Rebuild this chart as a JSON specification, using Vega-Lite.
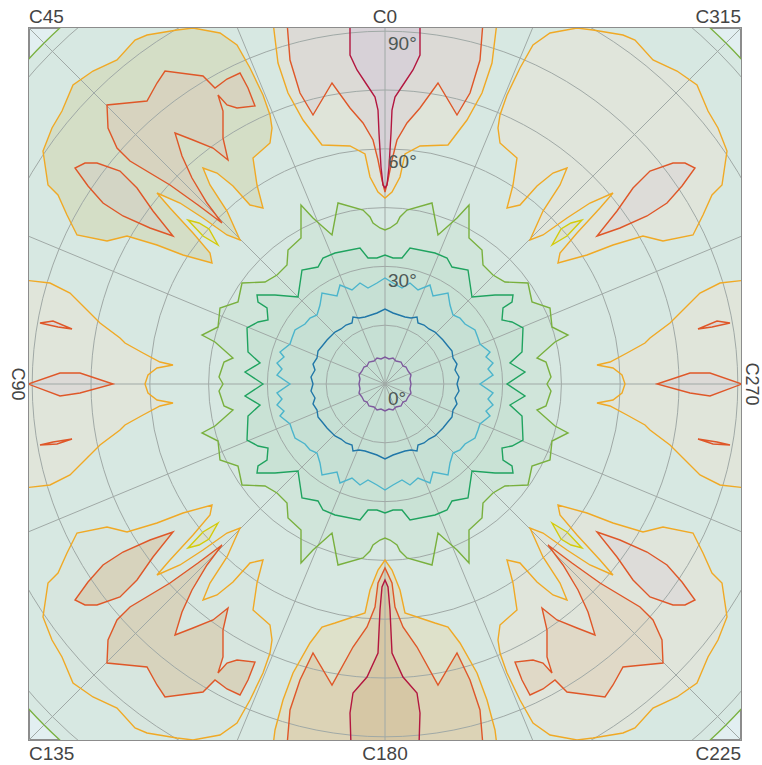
{
"$schema":"https://vega.github.io/schema/vega-lite/v6.json",
"width":712,"height":712,
"autosize":{"type":"none"},
"padding":{"left":29,"top":28,"right":21,"bottom":25},
"background":"white",
"config":{"view":{"stroke":"#8c8c8c","strokeWidth":2,"fill":"#e2eff1"}},
"datasets":{
"contours":[
{"poly":"p","lev":"p","x":-26,"y":0},{"poly":"p","lev":"p","x":-25,"y":5},{"poly":"p","lev":"p","x":-26,"y":9},{"poly":"p","lev":"p","x":-23,"y":13},{"poly":"p","lev":"p","x":-21,"y":17},{"poly":"p","lev":"p","x":-18,"y":18},{"poly":"p","lev":"p","x":-16,"y":22},{"poly":"p","lev":"p","x":-11,"y":23},{"poly":"p","lev":"p","x":-8,"y":26},{"poly":"p","lev":"p","x":-4,"y":25},{"poly":"p","lev":"p","x":0,"y":27},{"poly":"p","lev":"p","x":4,"y":25},{"poly":"p","lev":"p","x":8,"y":26},{"poly":"p","lev":"p","x":11,"y":23},{"poly":"p","lev":"p","x":16,"y":22},{"poly":"p","lev":"p","x":18,"y":18},{"poly":"p","lev":"p","x":21,"y":17},{"poly":"p","lev":"p","x":23,"y":13},{"poly":"p","lev":"p","x":26,"y":9},{"poly":"p","lev":"p","x":25,"y":5},{"poly":"p","lev":"p","x":26,"y":0},{"poly":"p","lev":"p","x":25,"y":-5},{"poly":"p","lev":"p","x":26,"y":-9},{"poly":"p","lev":"p","x":23,"y":-13},{"poly":"p","lev":"p","x":21,"y":-17},{"poly":"p","lev":"p","x":18,"y":-18},{"poly":"p","lev":"p","x":16,"y":-22},{"poly":"p","lev":"p","x":11,"y":-23},{"poly":"p","lev":"p","x":8,"y":-26},{"poly":"p","lev":"p","x":4,"y":-25},{"poly":"p","lev":"p","x":0,"y":-27},{"poly":"p","lev":"p","x":-4,"y":-25},{"poly":"p","lev":"p","x":-8,"y":-26},{"poly":"p","lev":"p","x":-11,"y":-23},{"poly":"p","lev":"p","x":-16,"y":-22},{"poly":"p","lev":"p","x":-18,"y":-18},{"poly":"p","lev":"p","x":-21,"y":-17},{"poly":"p","lev":"p","x":-23,"y":-13},{"poly":"p","lev":"p","x":-26,"y":-9},{"poly":"p","lev":"p","x":-25,"y":-5},

{"poly":"b","lev":"b","x":-72,"y":0},{"poly":"b","lev":"b","x":-74,"y":7},{"poly":"b","lev":"b","x":-70,"y":14},{"poly":"b","lev":"b","x":-72,"y":20},{"poly":"b","lev":"b","x":-68,"y":26},{"poly":"b","lev":"b","x":-67,"y":33},{"poly":"b","lev":"b","x":-62,"y":39},{"poly":"b","lev":"b","x":-58,"y":44},{"poly":"b","lev":"b","x":-54,"y":48},{"poly":"b","lev":"b","x":-50,"y":52},{"poly":"b","lev":"b","x":-44,"y":55},{"poly":"b","lev":"b","x":-39,"y":59},{"poly":"b","lev":"b","x":-33,"y":61},{"poly":"b","lev":"b","x":-32,"y":67},{"poly":"b","lev":"b","x":-26,"y":66},{"poly":"b","lev":"b","x":-20,"y":67},{"poly":"b","lev":"b","x":-14,"y":69},{"poly":"b","lev":"b","x":-8,"y":71},{"poly":"b","lev":"b","x":0,"y":75},
{"poly":"b","lev":"b","x":8,"y":71},{"poly":"b","lev":"b","x":14,"y":69},{"poly":"b","lev":"b","x":20,"y":67},{"poly":"b","lev":"b","x":26,"y":66},{"poly":"b","lev":"b","x":32,"y":67},{"poly":"b","lev":"b","x":33,"y":61},{"poly":"b","lev":"b","x":39,"y":59},{"poly":"b","lev":"b","x":44,"y":55},{"poly":"b","lev":"b","x":50,"y":52},{"poly":"b","lev":"b","x":54,"y":48},{"poly":"b","lev":"b","x":58,"y":44},{"poly":"b","lev":"b","x":62,"y":39},{"poly":"b","lev":"b","x":67,"y":33},{"poly":"b","lev":"b","x":68,"y":26},{"poly":"b","lev":"b","x":72,"y":20},{"poly":"b","lev":"b","x":70,"y":14},{"poly":"b","lev":"b","x":74,"y":7},{"poly":"b","lev":"b","x":72,"y":0},
{"poly":"b","lev":"b","x":74,"y":-7},{"poly":"b","lev":"b","x":70,"y":-14},{"poly":"b","lev":"b","x":72,"y":-20},{"poly":"b","lev":"b","x":68,"y":-26},{"poly":"b","lev":"b","x":67,"y":-33},{"poly":"b","lev":"b","x":62,"y":-39},{"poly":"b","lev":"b","x":58,"y":-44},{"poly":"b","lev":"b","x":54,"y":-48},{"poly":"b","lev":"b","x":50,"y":-52},{"poly":"b","lev":"b","x":44,"y":-55},{"poly":"b","lev":"b","x":39,"y":-59},{"poly":"b","lev":"b","x":33,"y":-61},{"poly":"b","lev":"b","x":32,"y":-67},{"poly":"b","lev":"b","x":26,"y":-66},{"poly":"b","lev":"b","x":20,"y":-67},{"poly":"b","lev":"b","x":14,"y":-69},{"poly":"b","lev":"b","x":8,"y":-71},{"poly":"b","lev":"b","x":0,"y":-75},
{"poly":"b","lev":"b","x":-8,"y":-71},{"poly":"b","lev":"b","x":-14,"y":-69},{"poly":"b","lev":"b","x":-20,"y":-67},{"poly":"b","lev":"b","x":-26,"y":-66},{"poly":"b","lev":"b","x":-32,"y":-67},{"poly":"b","lev":"b","x":-33,"y":-61},{"poly":"b","lev":"b","x":-39,"y":-59},{"poly":"b","lev":"b","x":-44,"y":-55},{"poly":"b","lev":"b","x":-50,"y":-52},{"poly":"b","lev":"b","x":-54,"y":-48},{"poly":"b","lev":"b","x":-58,"y":-44},{"poly":"b","lev":"b","x":-62,"y":-39},{"poly":"b","lev":"b","x":-67,"y":-33},{"poly":"b","lev":"b","x":-68,"y":-26},{"poly":"b","lev":"b","x":-72,"y":-20},{"poly":"b","lev":"b","x":-70,"y":-14},{"poly":"b","lev":"b","x":-74,"y":-7},

{"poly":"c","lev":"c","x":-95,"y":0},{"poly":"c","lev":"c","x":-108,"y":9},{"poly":"c","lev":"c","x":-103,"y":15},{"poly":"c","lev":"c","x":-108,"y":21},{"poly":"c","lev":"c","x":-101,"y":27},{"poly":"c","lev":"c","x":-105,"y":32},{"poly":"c","lev":"c","x":-95,"y":40},{"poly":"c","lev":"c","x":-93,"y":46},{"poly":"c","lev":"c","x":-90,"y":54},{"poly":"c","lev":"c","x":-80,"y":60},{"poly":"c","lev":"c","x":-75,"y":66},{"poly":"c","lev":"c","x":-68,"y":69},{"poly":"c","lev":"c","x":-65,"y":79},{"poly":"c","lev":"c","x":-63,"y":91},{"poly":"c","lev":"c","x":-48,"y":88},{"poly":"c","lev":"c","x":-45,"y":99},{"poly":"c","lev":"c","x":-33,"y":94},{"poly":"c","lev":"c","x":-25,"y":101},{"poly":"c","lev":"c","x":-17,"y":96},{"poly":"c","lev":"c","x":-8,"y":101},{"poly":"c","lev":"c","x":0,"y":106},
{"poly":"c","lev":"c","x":8,"y":101},{"poly":"c","lev":"c","x":17,"y":96},{"poly":"c","lev":"c","x":25,"y":101},{"poly":"c","lev":"c","x":33,"y":94},{"poly":"c","lev":"c","x":45,"y":99},{"poly":"c","lev":"c","x":48,"y":88},{"poly":"c","lev":"c","x":63,"y":91},{"poly":"c","lev":"c","x":65,"y":79},{"poly":"c","lev":"c","x":68,"y":69},{"poly":"c","lev":"c","x":75,"y":66},{"poly":"c","lev":"c","x":80,"y":60},{"poly":"c","lev":"c","x":90,"y":54},{"poly":"c","lev":"c","x":93,"y":46},{"poly":"c","lev":"c","x":95,"y":40},{"poly":"c","lev":"c","x":105,"y":32},{"poly":"c","lev":"c","x":101,"y":27},{"poly":"c","lev":"c","x":108,"y":21},{"poly":"c","lev":"c","x":103,"y":15},{"poly":"c","lev":"c","x":108,"y":9},{"poly":"c","lev":"c","x":95,"y":0},
{"poly":"c","lev":"c","x":108,"y":-9},{"poly":"c","lev":"c","x":103,"y":-15},{"poly":"c","lev":"c","x":108,"y":-21},{"poly":"c","lev":"c","x":101,"y":-27},{"poly":"c","lev":"c","x":105,"y":-32},{"poly":"c","lev":"c","x":95,"y":-40},{"poly":"c","lev":"c","x":93,"y":-46},{"poly":"c","lev":"c","x":90,"y":-54},{"poly":"c","lev":"c","x":80,"y":-60},{"poly":"c","lev":"c","x":75,"y":-66},{"poly":"c","lev":"c","x":68,"y":-69},{"poly":"c","lev":"c","x":65,"y":-79},{"poly":"c","lev":"c","x":63,"y":-91},{"poly":"c","lev":"c","x":48,"y":-88},{"poly":"c","lev":"c","x":45,"y":-99},{"poly":"c","lev":"c","x":33,"y":-94},{"poly":"c","lev":"c","x":25,"y":-101},{"poly":"c","lev":"c","x":17,"y":-96},{"poly":"c","lev":"c","x":8,"y":-101},{"poly":"c","lev":"c","x":0,"y":-106},
{"poly":"c","lev":"c","x":-8,"y":-101},{"poly":"c","lev":"c","x":-17,"y":-96},{"poly":"c","lev":"c","x":-25,"y":-101},{"poly":"c","lev":"c","x":-33,"y":-94},{"poly":"c","lev":"c","x":-45,"y":-99},{"poly":"c","lev":"c","x":-48,"y":-88},{"poly":"c","lev":"c","x":-63,"y":-91},{"poly":"c","lev":"c","x":-65,"y":-79},{"poly":"c","lev":"c","x":-68,"y":-69},{"poly":"c","lev":"c","x":-75,"y":-66},{"poly":"c","lev":"c","x":-80,"y":-60},{"poly":"c","lev":"c","x":-90,"y":-54},{"poly":"c","lev":"c","x":-93,"y":-46},{"poly":"c","lev":"c","x":-95,"y":-40},{"poly":"c","lev":"c","x":-105,"y":-32},{"poly":"c","lev":"c","x":-101,"y":-27},{"poly":"c","lev":"c","x":-108,"y":-21},{"poly":"c","lev":"c","x":-103,"y":-15},{"poly":"c","lev":"c","x":-108,"y":-9},

{"poly":"g","lev":"g","x":-122,"y":0},{"poly":"g","lev":"g","x":-140,"y":12},{"poly":"g","lev":"g","x":-125,"y":21},{"poly":"g","lev":"g","x":-137,"y":32},{"poly":"g","lev":"g","x":-138,"y":56},{"poly":"g","lev":"g","x":-127,"y":62},{"poly":"g","lev":"g","x":-117,"y":64},{"poly":"g","lev":"g","x":-118,"y":76},{"poly":"g","lev":"g","x":-127,"y":82},{"poly":"g","lev":"g","x":-128,"y":89},{"poly":"g","lev":"g","x":-110,"y":89},{"poly":"g","lev":"g","x":-87,"y":87},{"poly":"g","lev":"g","x":-83,"y":114},{"poly":"g","lev":"g","x":-67,"y":117},{"poly":"g","lev":"g","x":-62,"y":126},{"poly":"g","lev":"g","x":-50,"y":131},{"poly":"g","lev":"g","x":-25,"y":136},{"poly":"g","lev":"g","x":-17,"y":126},{"poly":"g","lev":"g","x":-8,"y":126},{"poly":"g","lev":"g","x":0,"y":129},
{"poly":"g","lev":"g","x":8,"y":126},{"poly":"g","lev":"g","x":17,"y":126},{"poly":"g","lev":"g","x":25,"y":136},{"poly":"g","lev":"g","x":50,"y":131},{"poly":"g","lev":"g","x":62,"y":126},{"poly":"g","lev":"g","x":67,"y":117},{"poly":"g","lev":"g","x":83,"y":114},{"poly":"g","lev":"g","x":87,"y":87},{"poly":"g","lev":"g","x":110,"y":89},{"poly":"g","lev":"g","x":128,"y":89},{"poly":"g","lev":"g","x":127,"y":82},{"poly":"g","lev":"g","x":118,"y":76},{"poly":"g","lev":"g","x":117,"y":64},{"poly":"g","lev":"g","x":127,"y":62},{"poly":"g","lev":"g","x":138,"y":56},{"poly":"g","lev":"g","x":137,"y":32},{"poly":"g","lev":"g","x":125,"y":21},{"poly":"g","lev":"g","x":140,"y":12},{"poly":"g","lev":"g","x":122,"y":0},
{"poly":"g","lev":"g","x":140,"y":-12},{"poly":"g","lev":"g","x":125,"y":-21},{"poly":"g","lev":"g","x":137,"y":-32},{"poly":"g","lev":"g","x":138,"y":-56},{"poly":"g","lev":"g","x":127,"y":-62},{"poly":"g","lev":"g","x":117,"y":-64},{"poly":"g","lev":"g","x":118,"y":-76},{"poly":"g","lev":"g","x":127,"y":-82},{"poly":"g","lev":"g","x":128,"y":-89},{"poly":"g","lev":"g","x":110,"y":-89},{"poly":"g","lev":"g","x":87,"y":-87},{"poly":"g","lev":"g","x":83,"y":-114},{"poly":"g","lev":"g","x":67,"y":-117},{"poly":"g","lev":"g","x":62,"y":-126},{"poly":"g","lev":"g","x":50,"y":-131},{"poly":"g","lev":"g","x":25,"y":-136},{"poly":"g","lev":"g","x":17,"y":-126},{"poly":"g","lev":"g","x":8,"y":-126},{"poly":"g","lev":"g","x":0,"y":-129},
{"poly":"g","lev":"g","x":-8,"y":-126},{"poly":"g","lev":"g","x":-17,"y":-126},{"poly":"g","lev":"g","x":-25,"y":-136},{"poly":"g","lev":"g","x":-50,"y":-131},{"poly":"g","lev":"g","x":-62,"y":-126},{"poly":"g","lev":"g","x":-67,"y":-117},{"poly":"g","lev":"g","x":-83,"y":-114},{"poly":"g","lev":"g","x":-87,"y":-87},{"poly":"g","lev":"g","x":-110,"y":-89},{"poly":"g","lev":"g","x":-128,"y":-89},{"poly":"g","lev":"g","x":-127,"y":-82},{"poly":"g","lev":"g","x":-118,"y":-76},{"poly":"g","lev":"g","x":-117,"y":-64},{"poly":"g","lev":"g","x":-127,"y":-62},{"poly":"g","lev":"g","x":-138,"y":-56},{"poly":"g","lev":"g","x":-137,"y":-32},{"poly":"g","lev":"g","x":-125,"y":-21},{"poly":"g","lev":"g","x":-140,"y":-12},

{"poly":"yg","lev":"yg","x":-162,"y":0},{"poly":"yg","lev":"yg","x":-166,"y":7},{"poly":"yg","lev":"yg","x":-161,"y":22},{"poly":"yg","lev":"yg","x":-152,"y":26},{"poly":"yg","lev":"yg","x":-170,"y":42},{"poly":"yg","lev":"yg","x":-183,"y":49},{"poly":"yg","lev":"yg","x":-167,"y":57},{"poly":"yg","lev":"yg","x":-165,"y":76},{"poly":"yg","lev":"yg","x":-147,"y":82},{"poly":"yg","lev":"yg","x":-143,"y":101},{"poly":"yg","lev":"yg","x":-120,"y":102},{"poly":"yg","lev":"yg","x":-108,"y":109},{"poly":"yg","lev":"yg","x":-98,"y":119},{"poly":"yg","lev":"yg","x":-97,"y":134},{"poly":"yg","lev":"yg","x":-84,"y":146},{"poly":"yg","lev":"yg","x":-84,"y":179},{"poly":"yg","lev":"yg","x":-72,"y":166},{"poly":"yg","lev":"yg","x":-53,"y":149},{"poly":"yg","lev":"yg","x":-47,"y":181},{"poly":"yg","lev":"yg","x":-22,"y":174},{"poly":"yg","lev":"yg","x":-15,"y":167},{"poly":"yg","lev":"yg","x":-12,"y":161},{"poly":"yg","lev":"yg","x":-5,"y":156},{"poly":"yg","lev":"yg","x":0,"y":154},
{"poly":"yg","lev":"yg","x":5,"y":156},{"poly":"yg","lev":"yg","x":12,"y":161},{"poly":"yg","lev":"yg","x":15,"y":167},{"poly":"yg","lev":"yg","x":22,"y":174},{"poly":"yg","lev":"yg","x":47,"y":181},{"poly":"yg","lev":"yg","x":53,"y":149},{"poly":"yg","lev":"yg","x":72,"y":166},{"poly":"yg","lev":"yg","x":84,"y":179},{"poly":"yg","lev":"yg","x":84,"y":146},{"poly":"yg","lev":"yg","x":97,"y":134},{"poly":"yg","lev":"yg","x":98,"y":119},{"poly":"yg","lev":"yg","x":108,"y":109},{"poly":"yg","lev":"yg","x":120,"y":102},{"poly":"yg","lev":"yg","x":143,"y":101},{"poly":"yg","lev":"yg","x":147,"y":82},{"poly":"yg","lev":"yg","x":165,"y":76},{"poly":"yg","lev":"yg","x":167,"y":57},{"poly":"yg","lev":"yg","x":183,"y":49},{"poly":"yg","lev":"yg","x":170,"y":42},{"poly":"yg","lev":"yg","x":152,"y":26},{"poly":"yg","lev":"yg","x":161,"y":22},{"poly":"yg","lev":"yg","x":166,"y":7},{"poly":"yg","lev":"yg","x":162,"y":0},
{"poly":"yg","lev":"yg","x":166,"y":-7},{"poly":"yg","lev":"yg","x":161,"y":-22},{"poly":"yg","lev":"yg","x":152,"y":-26},{"poly":"yg","lev":"yg","x":170,"y":-42},{"poly":"yg","lev":"yg","x":183,"y":-49},{"poly":"yg","lev":"yg","x":167,"y":-57},{"poly":"yg","lev":"yg","x":165,"y":-76},{"poly":"yg","lev":"yg","x":147,"y":-82},{"poly":"yg","lev":"yg","x":143,"y":-101},{"poly":"yg","lev":"yg","x":120,"y":-102},{"poly":"yg","lev":"yg","x":108,"y":-109},{"poly":"yg","lev":"yg","x":98,"y":-119},{"poly":"yg","lev":"yg","x":97,"y":-134},{"poly":"yg","lev":"yg","x":84,"y":-146},{"poly":"yg","lev":"yg","x":84,"y":-179},{"poly":"yg","lev":"yg","x":72,"y":-166},{"poly":"yg","lev":"yg","x":53,"y":-149},{"poly":"yg","lev":"yg","x":47,"y":-181},{"poly":"yg","lev":"yg","x":22,"y":-174},{"poly":"yg","lev":"yg","x":15,"y":-167},{"poly":"yg","lev":"yg","x":12,"y":-161},{"poly":"yg","lev":"yg","x":5,"y":-156},{"poly":"yg","lev":"yg","x":0,"y":-154},
{"poly":"yg","lev":"yg","x":-5,"y":-156},{"poly":"yg","lev":"yg","x":-12,"y":-161},{"poly":"yg","lev":"yg","x":-15,"y":-167},{"poly":"yg","lev":"yg","x":-22,"y":-174},{"poly":"yg","lev":"yg","x":-47,"y":-181},{"poly":"yg","lev":"yg","x":-53,"y":-149},{"poly":"yg","lev":"yg","x":-72,"y":-166},{"poly":"yg","lev":"yg","x":-84,"y":-179},{"poly":"yg","lev":"yg","x":-84,"y":-146},{"poly":"yg","lev":"yg","x":-97,"y":-134},{"poly":"yg","lev":"yg","x":-98,"y":-119},{"poly":"yg","lev":"yg","x":-108,"y":-109},{"poly":"yg","lev":"yg","x":-120,"y":-102},{"poly":"yg","lev":"yg","x":-143,"y":-101},{"poly":"yg","lev":"yg","x":-147,"y":-82},{"poly":"yg","lev":"yg","x":-165,"y":-76},{"poly":"yg","lev":"yg","x":-167,"y":-57},{"poly":"yg","lev":"yg","x":-183,"y":-49},{"poly":"yg","lev":"yg","x":-170,"y":-42},{"poly":"yg","lev":"yg","x":-152,"y":-26},{"poly":"yg","lev":"yg","x":-161,"y":-22},{"poly":"yg","lev":"yg","x":-166,"y":-7},

{"poly":"o_br","lev":"o","x":115,"y":-241},{"poly":"o_br","lev":"o","x":132,"y":-226},{"poly":"o_br","lev":"o","x":128,"y":-199},{"poly":"o_br","lev":"o","x":122,"y":-176},{"poly":"o_br","lev":"o","x":135,"y":-179},{"poly":"o_br","lev":"o","x":152,"y":-198},{"poly":"o_br","lev":"o","x":168,"y":-211},{"poly":"o_br","lev":"o","x":182,"y":-216},{"poly":"o_br","lev":"o","x":175,"y":-199},{"poly":"o_br","lev":"o","x":158,"y":-173},{"poly":"o_br","lev":"o","x":145,"y":-144},{"poly":"o_br","lev":"o","x":158,"y":-149},{"poly":"o_br","lev":"o","x":182,"y":-166},{"poly":"o_br","lev":"o","x":205,"y":-181},{"poly":"o_br","lev":"o","x":228,"y":-191},{"poly":"o_br","lev":"o","x":215,"y":-176},{"poly":"o_br","lev":"o","x":192,"y":-151},{"poly":"o_br","lev":"o","x":175,"y":-131},{"poly":"o_br","lev":"o","x":173,"y":-121},{"poly":"o_br","lev":"o","x":202,"y":-129},{"poly":"o_br","lev":"o","x":228,"y":-139},{"poly":"o_br","lev":"o","x":258,"y":-148},{"poly":"o_br","lev":"o","x":278,"y":-143},{"poly":"o_br","lev":"o","x":308,"y":-149},{"poly":"o_br","lev":"o","x":318,"y":-169},{"poly":"o_br","lev":"o","x":327,"y":-189},{"poly":"o_br","lev":"o","x":337,"y":-199},{"poly":"o_br","lev":"o","x":342,"y":-233},{"poly":"o_br","lev":"o","x":333,"y":-256},{"poly":"o_br","lev":"o","x":323,"y":-273},{"poly":"o_br","lev":"o","x":312,"y":-299},{"poly":"o_br","lev":"o","x":292,"y":-313},{"poly":"o_br","lev":"o","x":268,"y":-324},{"poly":"o_br","lev":"o","x":250,"y":-344},{"poly":"o_br","lev":"o","x":238,"y":-349},{"poly":"o_br","lev":"o","x":208,"y":-354},{"poly":"o_br","lev":"o","x":192,"y":-356},{"poly":"o_br","lev":"o","x":165,"y":-351},{"poly":"o_br","lev":"o","x":148,"y":-339},{"poly":"o_br","lev":"o","x":135,"y":-316},{"poly":"o_br","lev":"o","x":122,"y":-289},{"poly":"o_br","lev":"o","x":115,"y":-269},{"poly":"o_br","lev":"o","x":113,"y":-256},

{"poly":"o_bl","lev":"o","x":-115,"y":-241},{"poly":"o_bl","lev":"o","x":-132,"y":-226},{"poly":"o_bl","lev":"o","x":-128,"y":-199},{"poly":"o_bl","lev":"o","x":-122,"y":-176},{"poly":"o_bl","lev":"o","x":-135,"y":-179},{"poly":"o_bl","lev":"o","x":-152,"y":-198},{"poly":"o_bl","lev":"o","x":-168,"y":-211},{"poly":"o_bl","lev":"o","x":-182,"y":-216},{"poly":"o_bl","lev":"o","x":-175,"y":-199},{"poly":"o_bl","lev":"o","x":-158,"y":-173},{"poly":"o_bl","lev":"o","x":-145,"y":-144},{"poly":"o_bl","lev":"o","x":-158,"y":-149},{"poly":"o_bl","lev":"o","x":-182,"y":-166},{"poly":"o_bl","lev":"o","x":-205,"y":-181},{"poly":"o_bl","lev":"o","x":-228,"y":-191},{"poly":"o_bl","lev":"o","x":-215,"y":-176},{"poly":"o_bl","lev":"o","x":-192,"y":-151},{"poly":"o_bl","lev":"o","x":-175,"y":-131},{"poly":"o_bl","lev":"o","x":-173,"y":-121},{"poly":"o_bl","lev":"o","x":-202,"y":-129},{"poly":"o_bl","lev":"o","x":-228,"y":-139},{"poly":"o_bl","lev":"o","x":-258,"y":-148},{"poly":"o_bl","lev":"o","x":-278,"y":-143},{"poly":"o_bl","lev":"o","x":-308,"y":-149},{"poly":"o_bl","lev":"o","x":-318,"y":-169},{"poly":"o_bl","lev":"o","x":-327,"y":-189},{"poly":"o_bl","lev":"o","x":-337,"y":-199},{"poly":"o_bl","lev":"o","x":-342,"y":-233},{"poly":"o_bl","lev":"o","x":-333,"y":-256},{"poly":"o_bl","lev":"o","x":-323,"y":-273},{"poly":"o_bl","lev":"o","x":-312,"y":-299},{"poly":"o_bl","lev":"o","x":-292,"y":-313},{"poly":"o_bl","lev":"o","x":-268,"y":-324},{"poly":"o_bl","lev":"o","x":-250,"y":-344},{"poly":"o_bl","lev":"o","x":-238,"y":-349},{"poly":"o_bl","lev":"o","x":-208,"y":-354},{"poly":"o_bl","lev":"o","x":-192,"y":-356},{"poly":"o_bl","lev":"o","x":-165,"y":-351},{"poly":"o_bl","lev":"o","x":-148,"y":-339},{"poly":"o_bl","lev":"o","x":-135,"y":-316},{"poly":"o_bl","lev":"o","x":-122,"y":-289},{"poly":"o_bl","lev":"o","x":-115,"y":-269},{"poly":"o_bl","lev":"o","x":-113,"y":-256},

{"poly":"o_tr","lev":"o","x":115,"y":241},{"poly":"o_tr","lev":"o","x":132,"y":226},{"poly":"o_tr","lev":"o","x":128,"y":199},{"poly":"o_tr","lev":"o","x":122,"y":176},{"poly":"o_tr","lev":"o","x":135,"y":179},{"poly":"o_tr","lev":"o","x":152,"y":198},{"poly":"o_tr","lev":"o","x":168,"y":211},{"poly":"o_tr","lev":"o","x":182,"y":216},{"poly":"o_tr","lev":"o","x":175,"y":199},{"poly":"o_tr","lev":"o","x":158,"y":173},{"poly":"o_tr","lev":"o","x":145,"y":144},{"poly":"o_tr","lev":"o","x":158,"y":149},{"poly":"o_tr","lev":"o","x":182,"y":166},{"poly":"o_tr","lev":"o","x":205,"y":181},{"poly":"o_tr","lev":"o","x":228,"y":191},{"poly":"o_tr","lev":"o","x":215,"y":176},{"poly":"o_tr","lev":"o","x":192,"y":151},{"poly":"o_tr","lev":"o","x":175,"y":131},{"poly":"o_tr","lev":"o","x":173,"y":121},{"poly":"o_tr","lev":"o","x":202,"y":129},{"poly":"o_tr","lev":"o","x":228,"y":139},{"poly":"o_tr","lev":"o","x":258,"y":148},{"poly":"o_tr","lev":"o","x":278,"y":143},{"poly":"o_tr","lev":"o","x":308,"y":149},{"poly":"o_tr","lev":"o","x":318,"y":169},{"poly":"o_tr","lev":"o","x":327,"y":189},{"poly":"o_tr","lev":"o","x":337,"y":199},{"poly":"o_tr","lev":"o","x":342,"y":233},{"poly":"o_tr","lev":"o","x":333,"y":256},{"poly":"o_tr","lev":"o","x":323,"y":273},{"poly":"o_tr","lev":"o","x":312,"y":299},{"poly":"o_tr","lev":"o","x":292,"y":313},{"poly":"o_tr","lev":"o","x":268,"y":324},{"poly":"o_tr","lev":"o","x":250,"y":344},{"poly":"o_tr","lev":"o","x":238,"y":349},{"poly":"o_tr","lev":"o","x":208,"y":354},{"poly":"o_tr","lev":"o","x":192,"y":356},{"poly":"o_tr","lev":"o","x":165,"y":351},{"poly":"o_tr","lev":"o","x":148,"y":339},{"poly":"o_tr","lev":"o","x":135,"y":316},{"poly":"o_tr","lev":"o","x":122,"y":289},{"poly":"o_tr","lev":"o","x":115,"y":269},{"poly":"o_tr","lev":"o","x":113,"y":256},

{"poly":"o_tl","lev":"o","x":-115,"y":241},{"poly":"o_tl","lev":"o","x":-132,"y":226},{"poly":"o_tl","lev":"o","x":-128,"y":199},{"poly":"o_tl","lev":"o","x":-122,"y":176},{"poly":"o_tl","lev":"o","x":-135,"y":179},{"poly":"o_tl","lev":"o","x":-152,"y":198},{"poly":"o_tl","lev":"o","x":-168,"y":211},{"poly":"o_tl","lev":"o","x":-182,"y":216},{"poly":"o_tl","lev":"o","x":-175,"y":199},{"poly":"o_tl","lev":"o","x":-158,"y":173},{"poly":"o_tl","lev":"o","x":-145,"y":144},{"poly":"o_tl","lev":"o","x":-158,"y":149},{"poly":"o_tl","lev":"o","x":-182,"y":166},{"poly":"o_tl","lev":"o","x":-205,"y":181},{"poly":"o_tl","lev":"o","x":-228,"y":191},{"poly":"o_tl","lev":"o","x":-215,"y":176},{"poly":"o_tl","lev":"o","x":-192,"y":151},{"poly":"o_tl","lev":"o","x":-175,"y":131},{"poly":"o_tl","lev":"o","x":-173,"y":121},{"poly":"o_tl","lev":"o","x":-202,"y":129},{"poly":"o_tl","lev":"o","x":-228,"y":139},{"poly":"o_tl","lev":"o","x":-258,"y":148},{"poly":"o_tl","lev":"o","x":-278,"y":143},{"poly":"o_tl","lev":"o","x":-308,"y":149},{"poly":"o_tl","lev":"o","x":-318,"y":169},{"poly":"o_tl","lev":"o","x":-327,"y":189},{"poly":"o_tl","lev":"o","x":-337,"y":199},{"poly":"o_tl","lev":"o","x":-342,"y":233},{"poly":"o_tl","lev":"o","x":-333,"y":256},{"poly":"o_tl","lev":"o","x":-323,"y":273},{"poly":"o_tl","lev":"o","x":-312,"y":299},{"poly":"o_tl","lev":"o","x":-292,"y":313},{"poly":"o_tl","lev":"o","x":-268,"y":324},{"poly":"o_tl","lev":"o","x":-250,"y":344},{"poly":"o_tl","lev":"o","x":-238,"y":349},{"poly":"o_tl","lev":"o","x":-208,"y":354},{"poly":"o_tl","lev":"o","x":-192,"y":356},{"poly":"o_tl","lev":"o","x":-165,"y":351},{"poly":"o_tl","lev":"o","x":-148,"y":339},{"poly":"o_tl","lev":"o","x":-135,"y":316},{"poly":"o_tl","lev":"o","x":-122,"y":289},{"poly":"o_tl","lev":"o","x":-115,"y":269},{"poly":"o_tl","lev":"o","x":-113,"y":256},

{"poly":"r_br","lev":"r","x":163,"y":-161},{"poly":"r_br","lev":"r","x":187,"y":-179},{"poly":"r_br","lev":"r","x":215,"y":-199},{"poly":"r_br","lev":"r","x":255,"y":-223},{"poly":"r_br","lev":"r","x":268,"y":-236},{"poly":"r_br","lev":"r","x":277,"y":-256},{"poly":"r_br","lev":"r","x":278,"y":-279},{"poly":"r_br","lev":"r","x":258,"y":-281},{"poly":"r_br","lev":"r","x":238,"y":-283},{"poly":"r_br","lev":"r","x":228,"y":-301},{"poly":"r_br","lev":"r","x":220,"y":-313},{"poly":"r_br","lev":"r","x":182,"y":-308},{"poly":"r_br","lev":"r","x":170,"y":-296},{"poly":"r_br","lev":"r","x":158,"y":-305},{"poly":"r_br","lev":"r","x":145,"y":-311},{"poly":"r_br","lev":"r","x":137,"y":-296},{"poly":"r_br","lev":"r","x":130,"y":-278},{"poly":"r_br","lev":"r","x":148,"y":-276},{"poly":"r_br","lev":"r","x":158,"y":-279},{"poly":"r_br","lev":"r","x":167,"y":-289},{"poly":"r_br","lev":"r","x":162,"y":-273},{"poly":"r_br","lev":"r","x":162,"y":-246},{"poly":"r_br","lev":"r","x":157,"y":-224},{"poly":"r_br","lev":"r","x":172,"y":-236},{"poly":"r_br","lev":"r","x":192,"y":-244},{"poly":"r_br","lev":"r","x":210,"y":-251},{"poly":"r_br","lev":"r","x":203,"y":-228},{"poly":"r_br","lev":"r","x":193,"y":-206},{"poly":"r_br","lev":"r","x":178,"y":-181},

{"poly":"r_bl","lev":"r","x":-163,"y":-161},{"poly":"r_bl","lev":"r","x":-187,"y":-179},{"poly":"r_bl","lev":"r","x":-215,"y":-199},{"poly":"r_bl","lev":"r","x":-255,"y":-223},{"poly":"r_bl","lev":"r","x":-268,"y":-236},{"poly":"r_bl","lev":"r","x":-277,"y":-256},{"poly":"r_bl","lev":"r","x":-278,"y":-279},{"poly":"r_bl","lev":"r","x":-258,"y":-281},{"poly":"r_bl","lev":"r","x":-238,"y":-283},{"poly":"r_bl","lev":"r","x":-228,"y":-301},{"poly":"r_bl","lev":"r","x":-220,"y":-313},{"poly":"r_bl","lev":"r","x":-182,"y":-308},{"poly":"r_bl","lev":"r","x":-170,"y":-296},{"poly":"r_bl","lev":"r","x":-158,"y":-305},{"poly":"r_bl","lev":"r","x":-145,"y":-311},{"poly":"r_bl","lev":"r","x":-137,"y":-296},{"poly":"r_bl","lev":"r","x":-130,"y":-278},{"poly":"r_bl","lev":"r","x":-148,"y":-276},{"poly":"r_bl","lev":"r","x":-158,"y":-279},{"poly":"r_bl","lev":"r","x":-167,"y":-289},{"poly":"r_bl","lev":"r","x":-162,"y":-273},{"poly":"r_bl","lev":"r","x":-162,"y":-246},{"poly":"r_bl","lev":"r","x":-157,"y":-224},{"poly":"r_bl","lev":"r","x":-172,"y":-236},{"poly":"r_bl","lev":"r","x":-192,"y":-244},{"poly":"r_bl","lev":"r","x":-210,"y":-251},{"poly":"r_bl","lev":"r","x":-203,"y":-228},{"poly":"r_bl","lev":"r","x":-193,"y":-206},{"poly":"r_bl","lev":"r","x":-178,"y":-181},

{"poly":"r_tl","lev":"r","x":-163,"y":161},{"poly":"r_tl","lev":"r","x":-187,"y":179},{"poly":"r_tl","lev":"r","x":-215,"y":199},{"poly":"r_tl","lev":"r","x":-255,"y":223},{"poly":"r_tl","lev":"r","x":-268,"y":236},{"poly":"r_tl","lev":"r","x":-277,"y":256},{"poly":"r_tl","lev":"r","x":-278,"y":279},{"poly":"r_tl","lev":"r","x":-258,"y":281},{"poly":"r_tl","lev":"r","x":-238,"y":283},{"poly":"r_tl","lev":"r","x":-228,"y":301},{"poly":"r_tl","lev":"r","x":-220,"y":313},{"poly":"r_tl","lev":"r","x":-182,"y":308},{"poly":"r_tl","lev":"r","x":-170,"y":296},{"poly":"r_tl","lev":"r","x":-158,"y":305},{"poly":"r_tl","lev":"r","x":-145,"y":311},{"poly":"r_tl","lev":"r","x":-137,"y":296},{"poly":"r_tl","lev":"r","x":-130,"y":278},{"poly":"r_tl","lev":"r","x":-148,"y":276},{"poly":"r_tl","lev":"r","x":-158,"y":279},{"poly":"r_tl","lev":"r","x":-167,"y":289},{"poly":"r_tl","lev":"r","x":-162,"y":273},{"poly":"r_tl","lev":"r","x":-162,"y":246},{"poly":"r_tl","lev":"r","x":-157,"y":224},{"poly":"r_tl","lev":"r","x":-172,"y":236},{"poly":"r_tl","lev":"r","x":-192,"y":244},{"poly":"r_tl","lev":"r","x":-210,"y":251},{"poly":"r_tl","lev":"r","x":-203,"y":228},{"poly":"r_tl","lev":"r","x":-193,"y":206},{"poly":"r_tl","lev":"r","x":-178,"y":181},

{"poly":"t_br","lev":"r","x":212,"y":-148},{"poly":"t_br","lev":"r","x":235,"y":-156},{"poly":"t_br","lev":"r","x":262,"y":-168},{"poly":"t_br","lev":"r","x":282,"y":-181},{"poly":"t_br","lev":"r","x":297,"y":-198},{"poly":"t_br","lev":"r","x":310,"y":-216},{"poly":"t_br","lev":"r","x":300,"y":-221},{"poly":"t_br","lev":"r","x":288,"y":-221},{"poly":"t_br","lev":"r","x":265,"y":-213},{"poly":"t_br","lev":"r","x":248,"y":-196},{"poly":"t_br","lev":"r","x":232,"y":-173},
{"poly":"t_bl","lev":"r","x":-212,"y":-148},{"poly":"t_bl","lev":"r","x":-235,"y":-156},{"poly":"t_bl","lev":"r","x":-262,"y":-168},{"poly":"t_bl","lev":"r","x":-282,"y":-181},{"poly":"t_bl","lev":"r","x":-297,"y":-198},{"poly":"t_bl","lev":"r","x":-310,"y":-216},{"poly":"t_bl","lev":"r","x":-300,"y":-221},{"poly":"t_bl","lev":"r","x":-288,"y":-221},{"poly":"t_bl","lev":"r","x":-265,"y":-213},{"poly":"t_bl","lev":"r","x":-248,"y":-196},{"poly":"t_bl","lev":"r","x":-232,"y":-173},
{"poly":"t_tr","lev":"r","x":212,"y":148},{"poly":"t_tr","lev":"r","x":235,"y":156},{"poly":"t_tr","lev":"r","x":262,"y":168},{"poly":"t_tr","lev":"r","x":282,"y":181},{"poly":"t_tr","lev":"r","x":297,"y":198},{"poly":"t_tr","lev":"r","x":310,"y":216},{"poly":"t_tr","lev":"r","x":300,"y":221},{"poly":"t_tr","lev":"r","x":288,"y":221},{"poly":"t_tr","lev":"r","x":265,"y":213},{"poly":"t_tr","lev":"r","x":248,"y":196},{"poly":"t_tr","lev":"r","x":232,"y":173},
{"poly":"t_tl","lev":"r","x":-212,"y":148},{"poly":"t_tl","lev":"r","x":-235,"y":156},{"poly":"t_tl","lev":"r","x":-262,"y":168},{"poly":"t_tl","lev":"r","x":-282,"y":181},{"poly":"t_tl","lev":"r","x":-297,"y":198},{"poly":"t_tl","lev":"r","x":-310,"y":216},{"poly":"t_tl","lev":"r","x":-300,"y":221},{"poly":"t_tl","lev":"r","x":-288,"y":221},{"poly":"t_tl","lev":"r","x":-265,"y":213},{"poly":"t_tl","lev":"r","x":-248,"y":196},{"poly":"t_tl","lev":"r","x":-232,"y":173},

{"poly":"y_br","lev":"y","x":167,"y":-139},{"poly":"y_br","lev":"y","x":182,"y":-148},{"poly":"y_br","lev":"y","x":197,"y":-164},{"poly":"y_br","lev":"y","x":186,"y":-161},{"poly":"y_br","lev":"y","x":176,"y":-155},
{"poly":"y_bl","lev":"y","x":-167,"y":-139},{"poly":"y_bl","lev":"y","x":-182,"y":-148},{"poly":"y_bl","lev":"y","x":-197,"y":-164},{"poly":"y_bl","lev":"y","x":-186,"y":-161},{"poly":"y_bl","lev":"y","x":-176,"y":-155},
{"poly":"y_tr","lev":"y","x":167,"y":139},{"poly":"y_tr","lev":"y","x":182,"y":148},{"poly":"y_tr","lev":"y","x":197,"y":164},{"poly":"y_tr","lev":"y","x":186,"y":161},{"poly":"y_tr","lev":"y","x":176,"y":155},
{"poly":"y_tl","lev":"y","x":-167,"y":139},{"poly":"y_tl","lev":"y","x":-182,"y":148},{"poly":"y_tl","lev":"y","x":-197,"y":164},{"poly":"y_tl","lev":"y","x":-186,"y":161},{"poly":"y_tl","lev":"y","x":-176,"y":155},

{"poly":"o_top","lev":"o","x":-112,"y":362},{"poly":"o_top","lev":"o","x":-107,"y":321},{"poly":"o_top","lev":"o","x":-97,"y":291},{"poly":"o_top","lev":"o","x":-82,"y":264},{"poly":"o_top","lev":"o","x":-63,"y":239},{"poly":"o_top","lev":"o","x":-35,"y":238},{"poly":"o_top","lev":"o","x":-20,"y":230},{"poly":"o_top","lev":"o","x":-15,"y":207},{"poly":"o_top","lev":"o","x":-7,"y":192},{"poly":"o_top","lev":"o","x":0,"y":186},{"poly":"o_top","lev":"o","x":7,"y":192},{"poly":"o_top","lev":"o","x":15,"y":207},{"poly":"o_top","lev":"o","x":20,"y":230},{"poly":"o_top","lev":"o","x":35,"y":238},{"poly":"o_top","lev":"o","x":63,"y":239},{"poly":"o_top","lev":"o","x":82,"y":264},{"poly":"o_top","lev":"o","x":97,"y":291},{"poly":"o_top","lev":"o","x":107,"y":321},{"poly":"o_top","lev":"o","x":112,"y":362},
{"poly":"r_top","lev":"r","x":-98,"y":362},{"poly":"r_top","lev":"r","x":-95,"y":324},{"poly":"r_top","lev":"r","x":-85,"y":291},{"poly":"r_top","lev":"r","x":-72,"y":269},{"poly":"r_top","lev":"r","x":-53,"y":301},{"poly":"r_top","lev":"r","x":-35,"y":276},{"poly":"r_top","lev":"r","x":-22,"y":261},{"poly":"r_top","lev":"r","x":-12,"y":244},{"poly":"r_top","lev":"r","x":-7,"y":224},{"poly":"r_top","lev":"r","x":-3,"y":204},{"poly":"r_top","lev":"r","x":0,"y":192},{"poly":"r_top","lev":"r","x":3,"y":204},{"poly":"r_top","lev":"r","x":7,"y":224},{"poly":"r_top","lev":"r","x":12,"y":244},{"poly":"r_top","lev":"r","x":22,"y":261},{"poly":"r_top","lev":"r","x":35,"y":276},{"poly":"r_top","lev":"r","x":53,"y":301},{"poly":"r_top","lev":"r","x":72,"y":269},{"poly":"r_top","lev":"r","x":85,"y":291},{"poly":"r_top","lev":"r","x":95,"y":324},{"poly":"r_top","lev":"r","x":98,"y":362},
{"poly":"d_top","lev":"d","x":-35,"y":362},{"poly":"d_top","lev":"d","x":-35,"y":329},{"poly":"d_top","lev":"d","x":-28,"y":314},{"poly":"d_top","lev":"d","x":-18,"y":299},{"poly":"d_top","lev":"d","x":-10,"y":287},{"poly":"d_top","lev":"d","x":-7,"y":274},{"poly":"d_top","lev":"d","x":-6,"y":251},{"poly":"d_top","lev":"d","x":-4,"y":217},{"poly":"d_top","lev":"d","x":-2,"y":199},{"poly":"d_top","lev":"d","x":0,"y":196},{"poly":"d_top","lev":"d","x":2,"y":199},{"poly":"d_top","lev":"d","x":4,"y":217},{"poly":"d_top","lev":"d","x":6,"y":251},{"poly":"d_top","lev":"d","x":7,"y":274},{"poly":"d_top","lev":"d","x":10,"y":287},{"poly":"d_top","lev":"d","x":18,"y":299},{"poly":"d_top","lev":"d","x":28,"y":314},{"poly":"d_top","lev":"d","x":35,"y":329},{"poly":"d_top","lev":"d","x":35,"y":362},

{"poly":"o_bot","lev":"o","x":-112,"y":-362},{"poly":"o_bot","lev":"o","x":-110,"y":-346},{"poly":"o_bot","lev":"o","x":-102,"y":-316},{"poly":"o_bot","lev":"o","x":-92,"y":-289},{"poly":"o_bot","lev":"o","x":-75,"y":-259},{"poly":"o_bot","lev":"o","x":-63,"y":-243},{"poly":"o_bot","lev":"o","x":-50,"y":-239},{"poly":"o_bot","lev":"o","x":-35,"y":-234},{"poly":"o_bot","lev":"o","x":-20,"y":-229},{"poly":"o_bot","lev":"o","x":-15,"y":-206},{"poly":"o_bot","lev":"o","x":-7,"y":-186},{"poly":"o_bot","lev":"o","x":0,"y":-176},{"poly":"o_bot","lev":"o","x":7,"y":-186},{"poly":"o_bot","lev":"o","x":15,"y":-206},{"poly":"o_bot","lev":"o","x":20,"y":-229},{"poly":"o_bot","lev":"o","x":35,"y":-234},{"poly":"o_bot","lev":"o","x":50,"y":-239},{"poly":"o_bot","lev":"o","x":63,"y":-243},{"poly":"o_bot","lev":"o","x":75,"y":-259},{"poly":"o_bot","lev":"o","x":92,"y":-289},{"poly":"o_bot","lev":"o","x":102,"y":-316},{"poly":"o_bot","lev":"o","x":110,"y":-346},{"poly":"o_bot","lev":"o","x":112,"y":-362},
{"poly":"r_bot","lev":"r","x":-98,"y":-362},{"poly":"r_bot","lev":"r","x":-95,"y":-326},{"poly":"r_bot","lev":"r","x":-85,"y":-296},{"poly":"r_bot","lev":"r","x":-72,"y":-269},{"poly":"r_bot","lev":"r","x":-53,"y":-301},{"poly":"r_bot","lev":"r","x":-32,"y":-263},{"poly":"r_bot","lev":"r","x":-18,"y":-243},{"poly":"r_bot","lev":"r","x":-10,"y":-223},{"poly":"r_bot","lev":"r","x":-7,"y":-199},{"poly":"r_bot","lev":"r","x":0,"y":-184},{"poly":"r_bot","lev":"r","x":7,"y":-199},{"poly":"r_bot","lev":"r","x":10,"y":-223},{"poly":"r_bot","lev":"r","x":18,"y":-243},{"poly":"r_bot","lev":"r","x":32,"y":-263},{"poly":"r_bot","lev":"r","x":53,"y":-301},{"poly":"r_bot","lev":"r","x":72,"y":-269},{"poly":"r_bot","lev":"r","x":85,"y":-296},{"poly":"r_bot","lev":"r","x":95,"y":-326},{"poly":"r_bot","lev":"r","x":98,"y":-362},
{"poly":"d_bot","lev":"d","x":-34,"y":-362},{"poly":"d_bot","lev":"d","x":-35,"y":-329},{"poly":"d_bot","lev":"d","x":-32,"y":-309},{"poly":"d_bot","lev":"d","x":-18,"y":-293},{"poly":"d_bot","lev":"d","x":-7,"y":-269},{"poly":"d_bot","lev":"d","x":-5,"y":-226},{"poly":"d_bot","lev":"d","x":-3,"y":-203},{"poly":"d_bot","lev":"d","x":0,"y":-196},{"poly":"d_bot","lev":"d","x":3,"y":-203},{"poly":"d_bot","lev":"d","x":5,"y":-226},{"poly":"d_bot","lev":"d","x":7,"y":-269},{"poly":"d_bot","lev":"d","x":18,"y":-293},{"poly":"d_bot","lev":"d","x":32,"y":-309},{"poly":"d_bot","lev":"d","x":35,"y":-329},{"poly":"d_bot","lev":"d","x":34,"y":-362},

{"poly":"o_l","lev":"o","x":-362,"y":104},{"poly":"o_l","lev":"o","x":-335,"y":101},{"poly":"o_l","lev":"o","x":-315,"y":91},{"poly":"o_l","lev":"o","x":-298,"y":74},{"poly":"o_l","lev":"o","x":-285,"y":61},{"poly":"o_l","lev":"o","x":-265,"y":46},{"poly":"o_l","lev":"o","x":-260,"y":41},{"poly":"o_l","lev":"o","x":-242,"y":31},{"poly":"o_l","lev":"o","x":-225,"y":22},{"poly":"o_l","lev":"o","x":-212,"y":19},{"poly":"o_l","lev":"o","x":-228,"y":16},{"poly":"o_l","lev":"o","x":-237,"y":9},{"poly":"o_l","lev":"o","x":-240,"y":0},{"poly":"o_l","lev":"o","x":-237,"y":-9},{"poly":"o_l","lev":"o","x":-228,"y":-16},{"poly":"o_l","lev":"o","x":-212,"y":-19},{"poly":"o_l","lev":"o","x":-225,"y":-22},{"poly":"o_l","lev":"o","x":-242,"y":-31},{"poly":"o_l","lev":"o","x":-260,"y":-41},{"poly":"o_l","lev":"o","x":-265,"y":-46},{"poly":"o_l","lev":"o","x":-285,"y":-61},{"poly":"o_l","lev":"o","x":-298,"y":-74},{"poly":"o_l","lev":"o","x":-315,"y":-91},{"poly":"o_l","lev":"o","x":-335,"y":-101},{"poly":"o_l","lev":"o","x":-362,"y":-104},
{"poly":"o_r","lev":"o","x":362,"y":104},{"poly":"o_r","lev":"o","x":335,"y":101},{"poly":"o_r","lev":"o","x":315,"y":91},{"poly":"o_r","lev":"o","x":298,"y":74},{"poly":"o_r","lev":"o","x":285,"y":61},{"poly":"o_r","lev":"o","x":265,"y":46},{"poly":"o_r","lev":"o","x":260,"y":41},{"poly":"o_r","lev":"o","x":242,"y":31},{"poly":"o_r","lev":"o","x":225,"y":22},{"poly":"o_r","lev":"o","x":212,"y":19},{"poly":"o_r","lev":"o","x":228,"y":16},{"poly":"o_r","lev":"o","x":237,"y":9},{"poly":"o_r","lev":"o","x":240,"y":0},{"poly":"o_r","lev":"o","x":237,"y":-9},{"poly":"o_r","lev":"o","x":228,"y":-16},{"poly":"o_r","lev":"o","x":212,"y":-19},{"poly":"o_r","lev":"o","x":225,"y":-22},{"poly":"o_r","lev":"o","x":242,"y":-31},{"poly":"o_r","lev":"o","x":260,"y":-41},{"poly":"o_r","lev":"o","x":265,"y":-46},{"poly":"o_r","lev":"o","x":285,"y":-61},{"poly":"o_r","lev":"o","x":298,"y":-74},{"poly":"o_r","lev":"o","x":315,"y":-91},{"poly":"o_r","lev":"o","x":335,"y":-101},{"poly":"o_r","lev":"o","x":362,"y":-104},
{"poly":"r_l","lev":"r","x":-357,"y":0},{"poly":"r_l","lev":"r","x":-325,"y":11},{"poly":"r_l","lev":"r","x":-305,"y":11},{"poly":"r_l","lev":"r","x":-272,"y":0},{"poly":"r_l","lev":"r","x":-305,"y":-9},{"poly":"r_l","lev":"r","x":-325,"y":-12},
{"poly":"r_r","lev":"r","x":357,"y":0},{"poly":"r_r","lev":"r","x":325,"y":11},{"poly":"r_r","lev":"r","x":305,"y":11},{"poly":"r_r","lev":"r","x":272,"y":0},{"poly":"r_r","lev":"r","x":305,"y":-9},{"poly":"r_r","lev":"r","x":325,"y":-12},
{"poly":"s_l1","lev":"r","x":-345,"y":61},{"poly":"s_l1","lev":"r","x":-332,"y":63},{"poly":"s_l1","lev":"r","x":-313,"y":55},{"poly":"s_l1","lev":"r","x":-327,"y":57},
{"poly":"s_l2","lev":"r","x":-345,"y":-61},{"poly":"s_l2","lev":"r","x":-332,"y":-58},{"poly":"s_l2","lev":"r","x":-313,"y":-55},{"poly":"s_l2","lev":"r","x":-328,"y":-60},
{"poly":"s_r1","lev":"r","x":345,"y":61},{"poly":"s_r1","lev":"r","x":332,"y":63},{"poly":"s_r1","lev":"r","x":313,"y":55},{"poly":"s_r1","lev":"r","x":327,"y":57},
{"poly":"s_r2","lev":"r","x":345,"y":-61},{"poly":"s_r2","lev":"r","x":332,"y":-58},{"poly":"s_r2","lev":"r","x":313,"y":-55},{"poly":"s_r2","lev":"r","x":328,"y":-60}
],
"grid":[{"gamma":15,"x":0,"y":0},{"gamma":30,"x":0,"y":0},{"gamma":45,"x":0,"y":0},{"gamma":60,"x":0,"y":0},{"gamma":75,"x":0,"y":0},{"gamma":90,"x":0,"y":0},{"gamma":105,"x":0,"y":0},{"gamma":120,"x":0,"y":0}],
"spokes":[{"x":0,"y":520,"x2":0,"y2":-520},{"x":199,"y":480,"x2":-199,"y2":-480},{"x":368,"y":368,"x2":-368,"y2":-368},{"x":480,"y":199,"x2":-480,"y2":-199},{"x":520,"y":0,"x2":-520,"y2":0},{"x":480,"y":-199,"x2":-480,"y2":199},{"x":368,"y":-368,"x2":-368,"y2":368},{"x":199,"y":-480,"x2":-199,"y2":480}]
},
"encoding":{
"x":{"field":"x","type":"quantitative","scale":{"domain":[-356,356],"nice":false,"zero":false},"axis":null},
"y":{"field":"y","type":"quantitative","scale":{"domain":[-356,356],"nice":false,"zero":false},"axis":null}
},
"resolve":{"scale":{"fill":"independent"}},
"layer":[
{"data":{"values":[{"gamma":123,"x":0,"y":0}]},
 "mark":{"type":"point","shape":"circle","filled":true,"fill":"#d7e8e2","stroke":"#79b03e","strokeWidth":1.3,"opacity":1,"clip":true},
 "encoding":{"size":{"field":"gamma","type":"quantitative","scale":{"type":"pow","exponent":2,"domain":[0,120],"range":[0,885105]},"legend":null}}},
{"data":{"name":"contours"},
 "transform":[{"filter":{"field":"poly","oneOf":["yg","o_tl","o_tr","o_bl","o_br","o_top","o_bot","o_l","o_r","y_tl","y_tr","y_bl","y_br"]}}],
 "mark":{"type":"line","interpolate":"linear-closed","strokeOpacity":0,"strokeWidth":0,"clip":true},
 "encoding":{"detail":{"field":"poly"},"order":{"value":null},
  "fill":{"field":"poly","type":"nominal","legend":null,"scale":{"domain":["yg","o_tl","o_tr","o_bl","o_br","o_top","o_bot","o_l","o_r","y_tl","y_tr","y_bl","y_br"],"range":["#d0e5da","#d4dec6","#e0e5db","#d7e6df","#e0e5db","#dfe4d9","#dee1ca","#e0e5da","#e0e5da","#dce2cd","#dce2cd","#dce2cd","#dce2cd"]}}}},
{"data":{"name":"contours"},
 "transform":[{"filter":{"field":"poly","oneOf":["g","r_tl","r_bl","r_br","t_tl","t_tr","t_bl","t_br","r_top","r_bot","r_l","r_r","s_l1","s_l2","s_r1","s_r2"]}}],
 "mark":{"type":"line","interpolate":"linear-closed","strokeOpacity":0,"strokeWidth":0,"clip":true},
 "encoding":{"detail":{"field":"poly"},"order":{"value":null},
  "fill":{"field":"poly","type":"nominal","legend":null,"scale":{"domain":["g","r_tl","r_bl","r_br","t_tl","t_tr","t_bl","t_br","r_top","r_bot","r_l","r_r","s_l1","s_l2","s_r1","s_r2"],"range":["#c9e2d5","#d7d3bf","#d7d3bd","#e0d9c7","#d3d5c5","#dddcd8","#d7d3bd","#dddcd9","#dcdad6","#dcd3b6","#dcdad7","#dcdad7","#dcdad7","#dcdad7","#dcdad7","#dcdad7"]}}}},
{"data":{"name":"contours"},
 "transform":[{"filter":{"field":"poly","oneOf":["c","d_top","d_bot"]}}],
 "mark":{"type":"line","interpolate":"linear-closed","strokeOpacity":0,"strokeWidth":0,"clip":true},
 "encoding":{"detail":{"field":"poly"},"order":{"value":null},
  "fill":{"field":"poly","type":"nominal","legend":null,"scale":{"domain":["c","d_top","d_bot"],"range":["#c6e0d4","#d7d1d7","#d6c7a5"]}}}},
{"data":{"name":"grid"},
 "mark":{"type":"point","shape":"circle","filled":false,"stroke":"#a0a9a6","strokeWidth":1,"opacity":1,"clip":true},
 "encoding":{"size":{"field":"gamma","type":"quantitative","scale":{"type":"pow","exponent":2,"domain":[0,120],"range":[0,885105]},"legend":null}}},
{"data":{"name":"spokes"},
 "mark":{"type":"rule","stroke":"#a0a9a6","strokeWidth":1,"clip":true},
 "encoding":{"x2":{"field":"x2"},"y2":{"field":"y2"}}},
{"data":{"name":"contours"},
 "mark":{"type":"line","interpolate":"linear-closed","strokeWidth":1.4,"clip":true},
 "encoding":{"detail":{"field":"poly"},"order":{"value":null},
  "stroke":{"field":"lev","type":"nominal","legend":null,"scale":{"domain":["p","b","c","g","yg","y","o","r","d"],"range":["#7f5a9e","#2077a8","#4cb5cc","#1fa35f","#79b03e","#d4cb0a","#f0a925","#df5728","#b3163f"]}}}},
{"data":{"values":[{"t":"0°","x":3,"y":-21},{"t":"30°","x":3,"y":97},{"t":"60°","x":3,"y":216},{"t":"90°","x":3,"y":334}]},
 "mark":{"type":"text","align":"left","baseline":"alphabetic","font":"Liberation Sans","fontSize":19,"fill":"#4e5855"},
 "encoding":{"text":{"field":"t"}}},
{"data":{"values":[{"t":"C45","x":-356,"y":361},{"t":"C135","x":-356,"y":-376}]},
 "mark":{"type":"text","align":"left","baseline":"alphabetic","font":"Liberation Sans","fontSize":19,"fill":"#444444"},
 "encoding":{"text":{"field":"t"}}},
{"data":{"values":[{"t":"C0","x":0,"y":361},{"t":"C180","x":0,"y":-376}]},
 "mark":{"type":"text","align":"center","baseline":"alphabetic","font":"Liberation Sans","fontSize":19,"fill":"#444444"},
 "encoding":{"text":{"field":"t"}}},
{"data":{"values":[{"t":"C315","x":356,"y":361},{"t":"C225","x":356,"y":-376}]},
 "mark":{"type":"text","align":"right","baseline":"alphabetic","font":"Liberation Sans","fontSize":19,"fill":"#444444"},
 "encoding":{"text":{"field":"t"}}},
{"data":{"values":[{"t":"C90","x":-368,"y":0},{"t":"C270","x":366,"y":0}]},
 "mark":{"type":"text","align":"center","baseline":"middle","angle":90,"font":"Liberation Sans","fontSize":18,"fill":"#444444"},
 "encoding":{"text":{"field":"t"}}}
]
}
